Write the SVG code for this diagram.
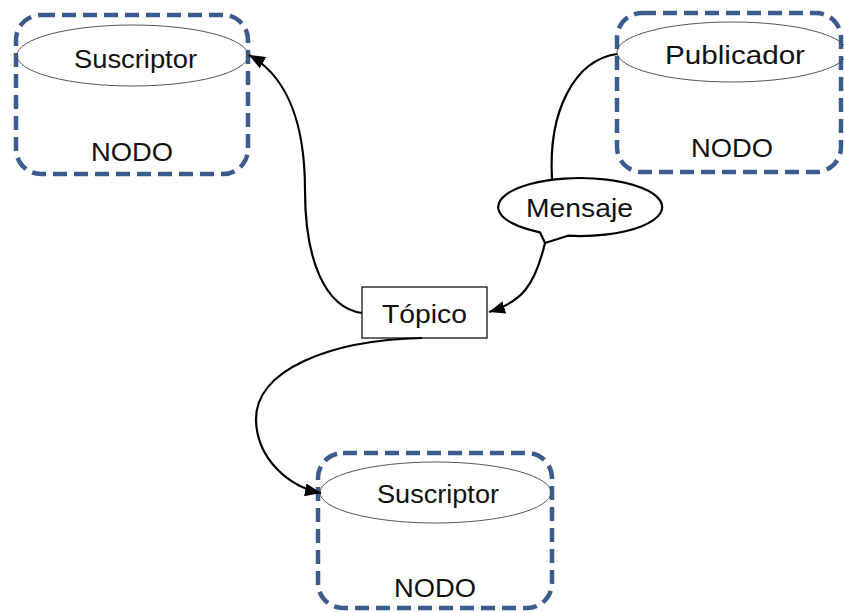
<svg xmlns="http://www.w3.org/2000/svg" width="844" height="612" viewBox="0 0 844 612">
<defs>
<marker id="arrow" viewBox="0 0 16 13" refX="16" refY="6.5" markerWidth="16" markerHeight="13" markerUnits="userSpaceOnUse" orient="auto">
<path d="M0,0 L16,6.5 L0,13 Z" fill="#000"/>
</marker>
<style>
.node{fill:#fff;stroke:#3B5B8C;stroke-width:4.5;stroke-dasharray:14 7}
.ell{fill:none;stroke:#555;stroke-width:1}
.txt{font-family:"Liberation Sans","DejaVu Sans",sans-serif;font-size:25px;fill:#111;text-anchor:middle}
.conn{fill:none;stroke:#000;stroke-width:2.2}
</style>
</defs>
<rect width="844" height="612" fill="#fff"/>
<g id="nodo-suscriptor-1">
<rect class="node" x="16" y="15" width="232" height="159" rx="25" ry="25"/>
<ellipse class="ell" cx="132.5" cy="55.5" rx="115.5" ry="30.5"/>
<text class="txt" x="135.5" y="68" textLength="123" lengthAdjust="spacingAndGlyphs">Suscriptor</text>
<text class="txt" x="132" y="161" textLength="82" lengthAdjust="spacingAndGlyphs">NODO</text>
</g>
<g id="nodo-publicador">
<rect class="node" x="617" y="13" width="224" height="159" rx="25" ry="25"/>
<ellipse class="ell" cx="732" cy="52" rx="115" ry="30"/>
<text class="txt" x="735" y="64" textLength="140" lengthAdjust="spacingAndGlyphs">Publicador</text>
<text class="txt" x="732" y="157" textLength="82" lengthAdjust="spacingAndGlyphs">NODO</text>
</g>
<g id="nodo-suscriptor-2">
<rect class="node" x="318" y="453" width="234" height="155" rx="25" ry="25"/>
<ellipse class="ell" cx="435.5" cy="492.5" rx="115.5" ry="30.5"/>
<text class="txt" x="438" y="503" textLength="122" lengthAdjust="spacingAndGlyphs">Suscriptor</text>
<text class="txt" x="435" y="597" textLength="82" lengthAdjust="spacingAndGlyphs">NODO</text>
</g>
<g id="topico">
<rect x="362" y="287" width="125" height="51" fill="#fff" stroke="#000" stroke-width="1.2"/>
<text class="txt" x="424.5" y="323" textLength="85" lengthAdjust="spacingAndGlyphs">Tópico</text>
</g>
<g id="connectors">
<path class="conn" d="M617,54 C575,60 548,110 552,179"/>
<path class="conn" d="M545,243 C535,285 522,302 489,312" marker-end="url(#arrow)"/>
<path class="conn" d="M362,313 C325,308 305,260 305,190 C305,120 285,75 249,55" marker-end="url(#arrow)"/>
<path class="conn" d="M422,338 C330,340 255,370 256,420 C257,460 290,487 321,493" marker-end="url(#arrow)"/>
</g>
<g id="mensaje">
<path d="M540,232.3 L545,243 L568,235.7 A82,29 0 1 0 540,232.3 Z" fill="#fff" stroke="#000" stroke-width="2.2" stroke-linejoin="round"/>
<text class="txt" x="579.5" y="217" textLength="107" lengthAdjust="spacingAndGlyphs">Mensaje</text>
</g>
</svg>
